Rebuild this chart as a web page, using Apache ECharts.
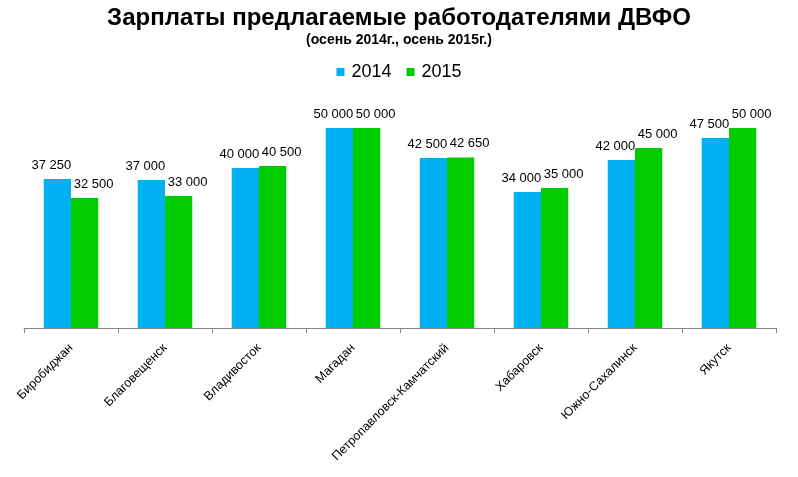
<!DOCTYPE html>
<html><head><meta charset="utf-8">
<script src="https://cdn.jsdelivr.net/npm/echarts@6/dist/echarts.min.js"></script>
<style>html,body{margin:0;padding:0;background:#fff}#c{width:798px;height:477px}</style>
</head><body><div id="c"></div>
<script>
const categories = ["Биробиджан","Благовещенск","Владивосток","Магадан","Петропавловск-Камчатский","Хабаровск","Южно-Сахалинск","Якутск"];
const values2014 = [37250, 37000, 40000, 50000, 42500, 34000, 42000, 47500];
const values2015 = [32500, 33000, 40500, 50000, 42650, 35000, 45000, 50000];
const fmt = v => String(v).replace(/\B(?=(\d{3})+(?!\d))/g, ' ');
const chart = echarts.init(document.getElementById('c'));
const F = 'Arial, "Liberation Sans", sans-serif';
const lbl = (dx) => ({show:true, position:'top', distance:7, offset:[dx,0], color:'#000', fontFamily:F, fontSize:13, formatter:p=>fmt(p.value)});
chart.setOption({
  animation:false,
  title:{text:'Зарплаты предлагаемые работодателями ДВФО', subtext:'(осень 2014г., осень 2015г.)', left:'center', top:1,
    itemGap:3,
    textStyle:{fontFamily:F, fontWeight:'bold', fontSize:24, color:'#000'},
    subtextStyle:{fontFamily:F, fontWeight:'bold', fontSize:14, color:'#000'}},
  legend:{top:58, left:'center', itemWidth:8, itemHeight:8, itemGap:15, icon:'rect',
    textStyle:{fontFamily:F, fontSize:18, color:'#000', padding:[0,0,0,2]}},
  grid:{left:24, right:22, top:88, bottom:149, containLabel:false},
  xAxis:{type:'category', data:categories,
    axisLine:{lineStyle:{color:'#868686'}}, axisTick:{show:true, lineStyle:{color:'#868686'}, length:5},
    axisLabel:{rotate:45, interval:0, color:'#000', fontFamily:F, fontSize:12.5, margin:18}},
  yAxis:{type:'value', min:0, max:60000, show:false, splitLine:{show:false}},
  series:[
    {name:'2014', type:'bar', data:values2014, itemStyle:{color:'#00B0F0'}, barGap:'0%', barCategoryGap:'42%', label:lbl(-6)},
    {name:'2015', type:'bar', data:values2015, itemStyle:{color:'#00CC00'}, label:lbl(9)}
  ]
});
</script></body></html>
